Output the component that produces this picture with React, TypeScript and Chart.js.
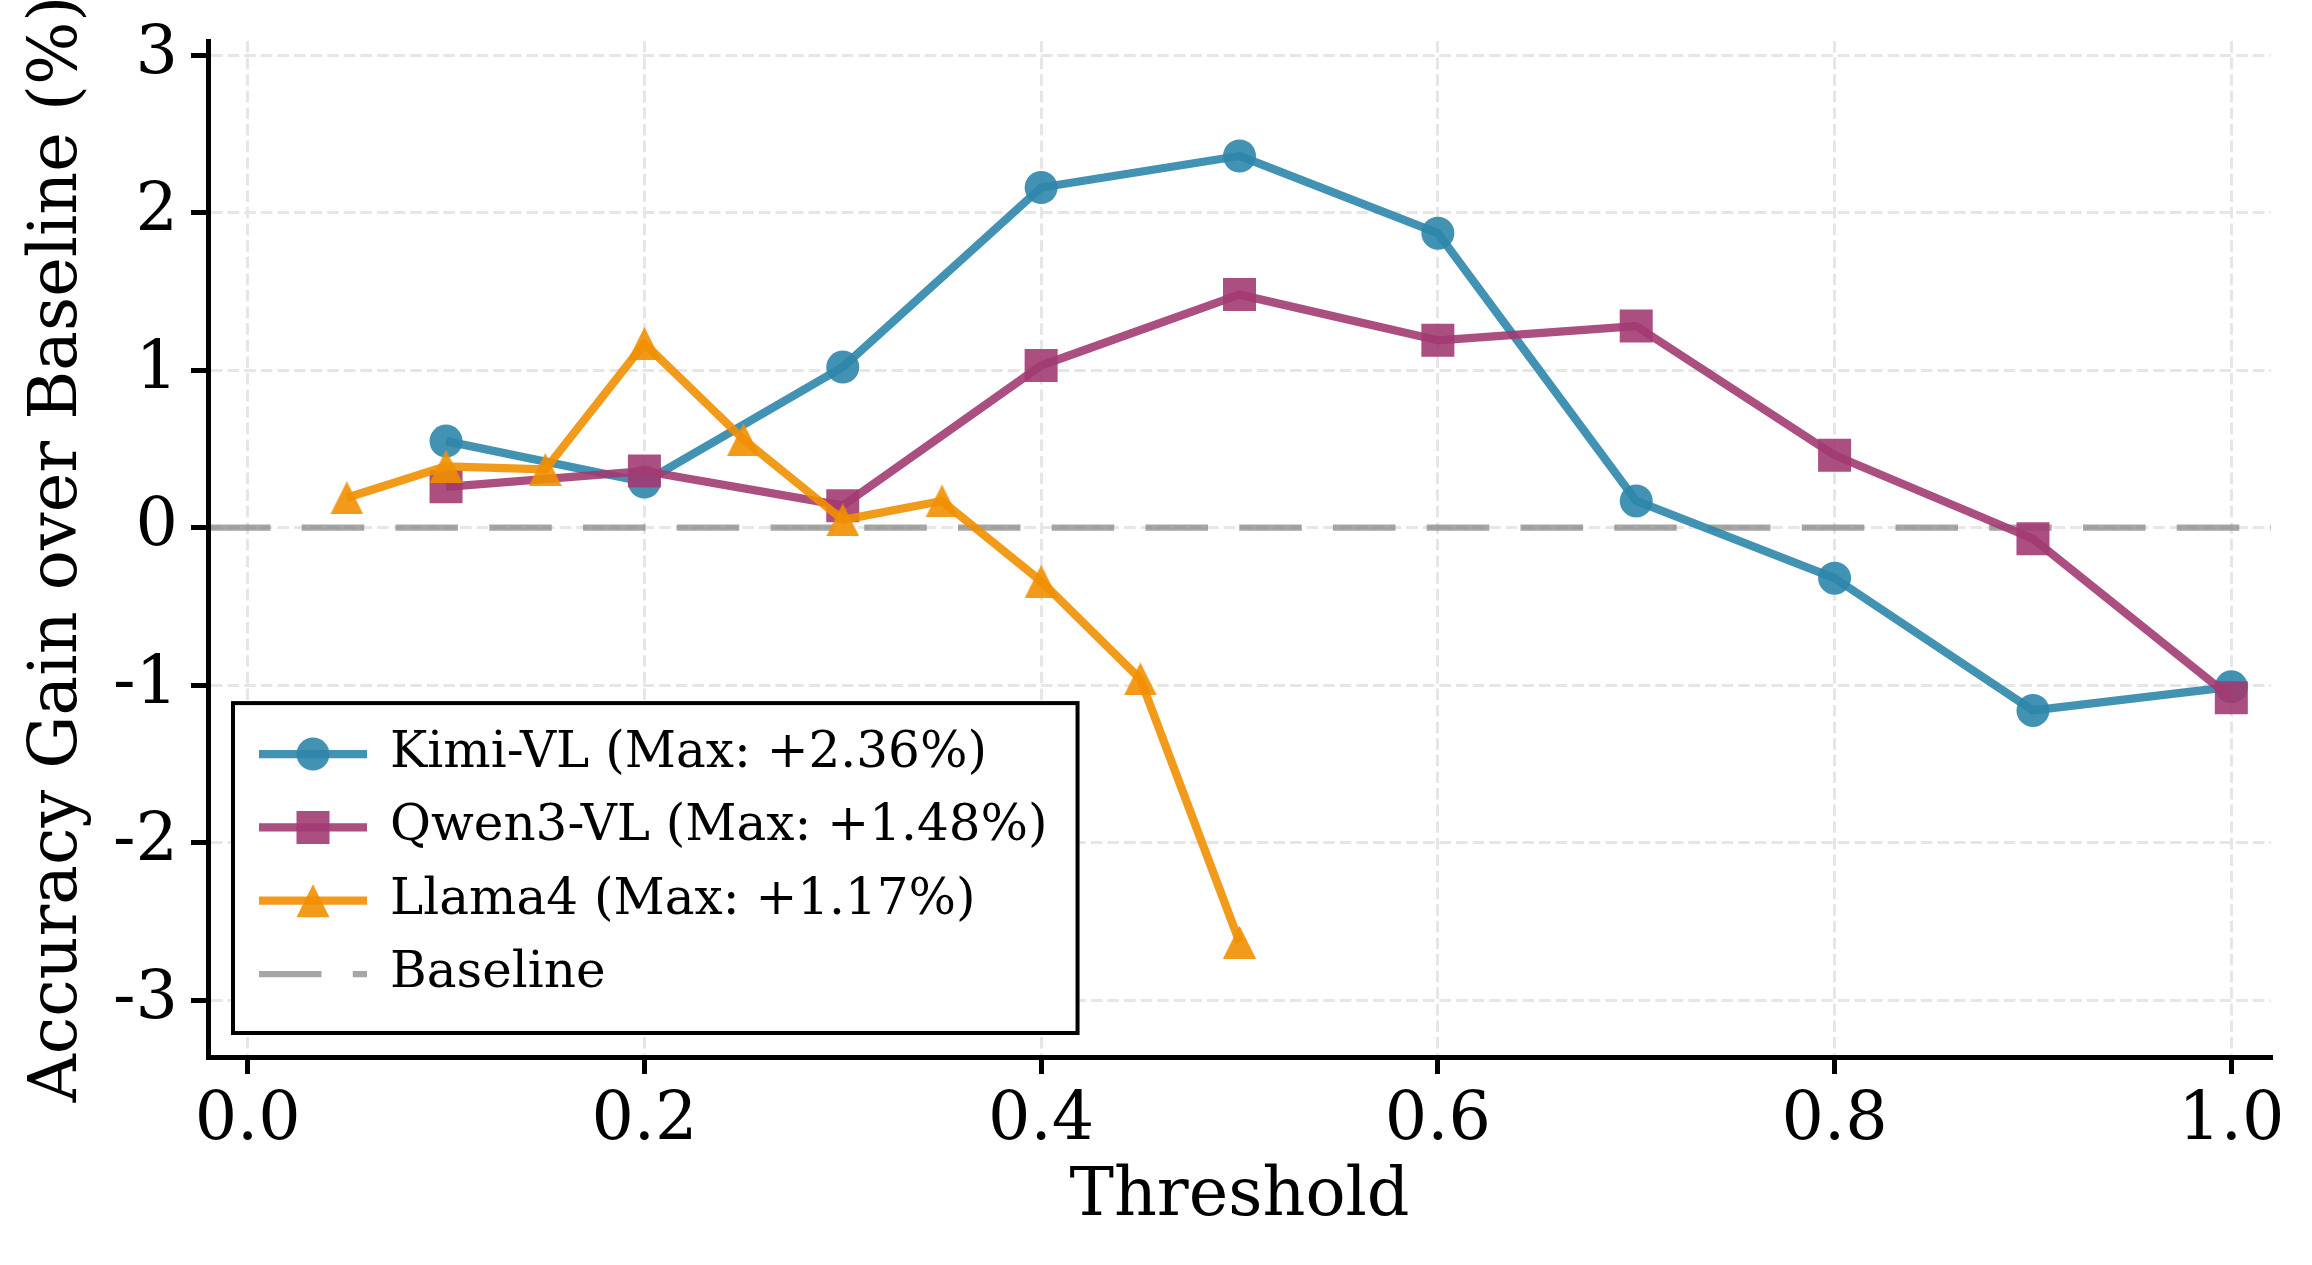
import React, { useEffect, useRef } from "react";
import { Chart, registerables } from "chart.js";

Chart.register(...registerables);

// ---------- data ----------
const kimiThresholds = [0.1, 0.2, 0.3, 0.4, 0.5, 0.6, 0.7, 0.8, 0.9, 1.0];
const kimiGain = [0.55, 0.29, 1.02, 2.16, 2.36, 1.87, 0.17, -0.32, -1.16, -1.01];

const qwenThresholds = [0.1, 0.2, 0.3, 0.4, 0.5, 0.6, 0.7, 0.8, 0.9, 1.0];
const qwenGain = [0.26, 0.36, 0.14, 1.03, 1.48, 1.19, 1.28, 0.46, -0.07, -1.08];

const llamaThresholds = [0.05, 0.1, 0.15, 0.2, 0.25, 0.3, 0.35, 0.4, 0.45, 0.5];
const llamaGain = [0.19, 0.39, 0.37, 1.17, 0.56, 0.05, 0.17, -0.34, -0.96, -2.63];

const seriesNames = ["Kimi-VL", "Qwen3-VL", "Llama4"];
const baselineLabel = "Baseline";
const baselineValue = 0;

const xTickValues = [0.0, 0.2, 0.4, 0.6, 0.8, 1.0];
const yTickValues = [-3, -2, -1, 0, 1, 2, 3];

const xTitle = "Threshold";
const yTitle = "Accuracy Gain over Baseline (%)";

// ---------- style ----------
const FONT = '"DejaVu Serif", "Liberation Serif", serif';
const KIMI = "rgba(46,134,171,0.9)";
const QWEN = "rgba(162,59,114,0.9)";
const LLAMA = "rgba(241,143,1,0.9)";
const BASE = "rgba(128,128,128,0.7)";
const GRID = "#e6e6e6";
const LINE_W = 8.3;
const MARKER = 33;
const BASE_DASH = [62.5, 31.25];
const BASE_W = 6.25;

function makeTriangle(size: number, color: string): HTMLCanvasElement {
  const c = document.createElement("canvas");
  c.width = size;
  c.height = size;
  const g = c.getContext("2d")!;
  g.fillStyle = color;
  g.beginPath();
  g.moveTo(size / 2, 0);
  g.lineTo(size, size);
  g.lineTo(0, size);
  g.closePath();
  g.fill();
  return c;
}

function drawMarker(ctx: CanvasRenderingContext2D, kind: string, x: number, y: number, color: string) {
  const h = MARKER / 2;
  ctx.fillStyle = color;
  ctx.beginPath();
  if (kind === "circle") {
    ctx.arc(x, y, h, 0, Math.PI * 2);
  } else if (kind === "square") {
    ctx.rect(x - h, y - h, MARKER, MARKER);
  } else {
    ctx.moveTo(x, y - h);
    ctx.lineTo(x + h, y + h);
    ctx.lineTo(x - h, y + h);
    ctx.closePath();
  }
  ctx.fill();
}

const maxLabel = (name: string, vals: number[]) =>
  `${name} (Max: +${Math.max(...vals).toFixed(2)}%)`;

const baselinePlugin = {
  id: "baselineLine",
  beforeDatasetsDraw(chart: any) {
    const { ctx, chartArea } = chart;
    const y = chart.scales.y.getPixelForValue(baselineValue);
    ctx.save();
    ctx.strokeStyle = BASE;
    ctx.lineWidth = BASE_W;
    ctx.setLineDash(BASE_DASH);
    ctx.beginPath();
    ctx.moveTo(chartArea.left, y);
    ctx.lineTo(chartArea.right, y);
    ctx.stroke();
    ctx.restore();
  },
};

const legendPlugin = {
  id: "mplLegend",
  afterDraw(chart: any) {
    const { ctx, chartArea } = chart;
    const entries = [
      { text: maxLabel(seriesNames[0], kimiGain), color: KIMI, marker: "circle" },
      { text: maxLabel(seriesNames[1], qwenGain), color: QWEN, marker: "square" },
      { text: maxLabel(seriesNames[2], llamaGain), color: LLAMA, marker: "triangle" },
      { text: baselineLabel, color: BASE, marker: "dash" },
    ];
    ctx.save();
    ctx.font = `50px ${FONT}`;
    const maxW = Math.max(...entries.map((e) => ctx.measureText(e.text).width));
    const left = chartArea.left + 25;
    const bottom = chartArea.bottom - 24;
    const rowH = 73.3;
    const top = bottom - (51 + rowH * 3 + 59);
    const textX = left + 157;
    const right = textX + maxW + 30;

    ctx.fillStyle = "#ffffff";
    ctx.fillRect(left, top, right - left, bottom - top);
    ctx.strokeStyle = "#000000";
    ctx.lineWidth = 4;
    ctx.strokeRect(left, top, right - left, bottom - top);

    entries.forEach((e, i) => {
      const y = top + 51 + rowH * i;
      const x1 = left + 26;
      const x2 = left + 134;
      ctx.save();
      ctx.strokeStyle = e.color;
      if (e.marker === "dash") {
        ctx.lineWidth = BASE_W;
        ctx.setLineDash(BASE_DASH);
      } else {
        ctx.lineWidth = LINE_W;
      }
      ctx.beginPath();
      ctx.moveTo(x1, y);
      ctx.lineTo(x2, y);
      ctx.stroke();
      ctx.restore();
      if (e.marker !== "dash") drawMarker(ctx, e.marker, (x1 + x2) / 2, y, e.color);
      ctx.fillStyle = "#000000";
      ctx.textAlign = "left";
      ctx.textBaseline = "middle";
      ctx.fillText(e.text, textX, y);
    });
    ctx.restore();
  },
};

export default function App() {
  const ref = useRef<HTMLCanvasElement>(null);

  useEffect(() => {
    const canvas = ref.current!;
    const tri = makeTriangle(MARKER, LLAMA);
    const toPts = (xs: number[], ys: number[]) => xs.map((x, i) => ({ x, y: ys[i] }));

    const gridCommon = {
      color: GRID,
      lineWidth: 3,
      drawTicks: true,
      tickLength: 17,
      tickColor: "#000000",
      tickWidth: 5,
      tickBorderDash: [],
    };
    const borderCommon = { display: true, color: "#000000", width: 5, dash: [11.6, 5], z: 1 };
    const zeroPad = (s: any) => {
      s.paddingTop = 0;
      s.paddingBottom = 0;
      s.paddingLeft = 0;
      s.paddingRight = 0;
    };

    const chart = new Chart(canvas, {
      type: "line",
      data: {
        datasets: [
          {
            label: seriesNames[0],
            data: toPts(kimiThresholds, kimiGain),
            borderColor: KIMI,
            backgroundColor: KIMI,
            borderWidth: LINE_W,
            borderJoinStyle: "round",
            pointStyle: "circle",
            pointRadius: MARKER / 2,
            pointBorderWidth: 0,
            order: 2,
          },
          {
            label: seriesNames[1],
            data: toPts(qwenThresholds, qwenGain),
            borderColor: QWEN,
            backgroundColor: QWEN,
            borderWidth: LINE_W,
            borderJoinStyle: "round",
            pointStyle: "rect",
            pointRadius: MARKER / 2 / Math.SQRT1_2,
            pointBorderWidth: 0,
            order: 1,
          },
          {
            label: seriesNames[2],
            data: toPts(llamaThresholds, llamaGain),
            borderColor: LLAMA,
            backgroundColor: LLAMA,
            borderWidth: LINE_W,
            borderJoinStyle: "round",
            pointStyle: tri,
            pointRadius: MARKER / 2,
            pointBorderWidth: 0,
            order: 0,
          },
        ],
      } as any,
      options: {
        responsive: false,
        animation: false,
        devicePixelRatio: 1,
        layout: { padding: { top: 41, right: 41, left: 0, bottom: 0 } },
        plugins: {
          legend: { display: false },
          tooltip: { enabled: false },
        },
        scales: {
          x: {
            type: "linear",
            min: -0.02,
            max: 1.02,
            afterFit: (s: any) => {
              s.height = 208;
              zeroPad(s);
            },
            afterBuildTicks: (s: any) => {
              s.ticks = xTickValues.map((v) => ({ value: v }));
            },
            ticks: {
              callback: (v: any) => Number(v).toFixed(1),
              font: { family: FONT, size: 66.7 },
              color: "#000000",
              padding: 8,
              maxRotation: 0,
              autoSkip: false,
            },
            grid: gridCommon,
            border: borderCommon,
            title: {
              display: true,
              text: xTitle,
              color: "#000000",
              font: { family: FONT, size: 66.7 },
              padding: { top: 0, bottom: 27 },
            },
          },
          y: {
            type: "linear",
            min: -3.36,
            max: 3.09,
            afterFit: (s: any) => {
              s.width = 208;
              zeroPad(s);
            },
            afterBuildTicks: (s: any) => {
              s.ticks = yTickValues.map((v) => ({ value: v }));
            },
            ticks: {
              callback: (v: any) => String(Math.round(Number(v))),
              font: { family: FONT, size: 66.7 },
              color: "#000000",
              padding: 13,
              autoSkip: false,
            },
            grid: gridCommon,
            border: borderCommon,
            title: {
              display: true,
              text: yTitle,
              color: "#000000",
              font: { family: FONT, size: 66.7 },
              padding: { top: 19, bottom: 0 },
            },
          },
        },
      } as any,
      plugins: [baselinePlugin, legendPlugin],
    });
    return () => chart.destroy();
  }, []);

  return (
    <div
      style={{
        position: "fixed",
        left: 0,
        top: 0,
        width: 2312,
        height: 1265,
        background: "#ffffff",
      }}
    >
      <canvas
        ref={ref}
        width={2312}
        height={1265}
        style={{ display: "block", width: 2312, height: 1265 }}
      />
    </div>
  );
}
